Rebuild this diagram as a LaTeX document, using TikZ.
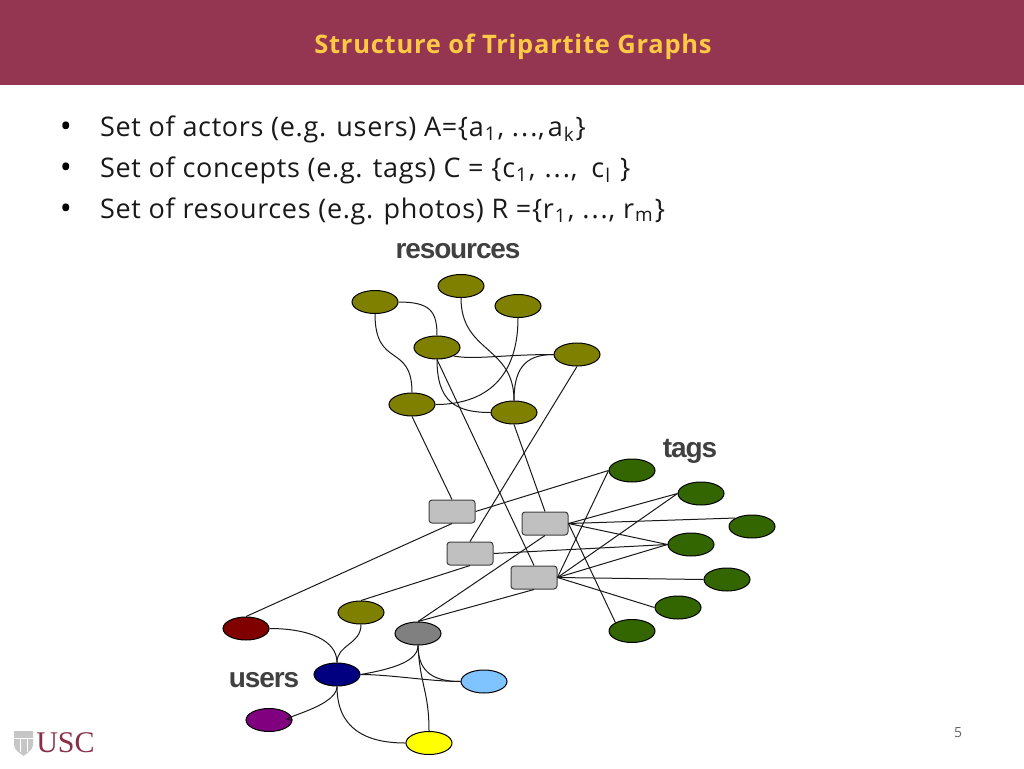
\documentclass[tikz,border=0pt]{standalone}
\usepackage{fontspec}
\setmainfont{Open Sans}
\newfontfamily\labfont[LetterSpace=-4]{Liberation Sans}
\newfontfamily\logofont{Liberation Serif}
\newfontfamily\spaced[LetterSpace=2.5]{Open Sans}
\newfontfamily\spacedT[LetterSpace=3]{Open Sans}
\usetikzlibrary{shapes.geometric}
\definecolor{band}{HTML}{943651}
\definecolor{gold}{HTML}{FFC845}
\definecolor{olivec}{HTML}{808000}
\definecolor{tagc}{HTML}{336600}
\definecolor{boxc}{HTML}{C0C0C0}
\definecolor{lab}{HTML}{404040}
\definecolor{logoc}{HTML}{8A2E48}
\definecolor{ured}{HTML}{800000}
\definecolor{ugray}{HTML}{808080}
\definecolor{unavy}{HTML}{000080}
\definecolor{usky}{HTML}{80C4FF}
\definecolor{upurple}{HTML}{800080}
\definecolor{uyellow}{HTML}{FFFF00}
\newcommand{\subtxt}[1]{\kern1pt\textsubscript{#1}\kern1.5pt}
\newcommand{\ddd}{.\kern2pt.\kern2pt.}
\tikzset{
  x=1pt,y=-1pt,
  oval/.style={ellipse,draw=black,line width=1pt,minimum width=46pt,minimum height=23pt,inner sep=0pt,fill=#1},
  res/.style={oval=olivec},
  tag/.style={oval=tagc},
  tbox/.style={rectangle,rounded corners=3pt,draw=black!75,line width=1pt,fill=boxc,minimum width=46pt,minimum height=23pt,inner sep=0pt},
  edge/.style={draw=black!90,line width=1pt},
  biglab/.style={font=\labfont\bfseries\fontsize{28}{28}\selectfont,text=lab,inner sep=0pt},
  bullettext/.style={anchor=base west,inner sep=0pt,font=\spaced\fontsize{27}{27}\selectfont,text=black!90},
  bulletdot/.style={anchor=base,inner sep=0pt,font=\fontsize{32}{32}\selectfont,text=black}
}
\begin{document}
\begin{tikzpicture}
\useasboundingbox (0,0) rectangle (1024,768);
\fill[band] (0,0) rectangle (1024,85);
\node[inner sep=0pt,text=gold,font=\spacedT\bfseries\fontsize{25.5}{25.5}\selectfont] (title) at (513,47) {Structure of Tripartite Graphs};

\node[bulletdot] (d1) at (66,137.5) {•};
\node[bulletdot] (d2) at (66,178.5) {•};
\node[bulletdot] (d3) at (66,219.5) {•};
\node[bullettext] (l1) at (100,136) {Set of actors (e.g. users) A=\{a\subtxt{1}, \ddd,\kern3pt a\subtxt{k}\}};
\node[bullettext] (l2) at (100,177) {Set of concepts (e.g. tags) C = \{c\subtxt{1},\kern9pt \ddd,\kern14pt c\subtxt{l}\kern8pt\}};
\node[bullettext] (l3) at (100,218) {Set of resources (e.g. photos) R =\{r\subtxt{1},\kern8pt \ddd,\kern8pt r\subtxt{m}\}};

\node[biglab] (lres) at (458,251.5) {resources};
\node[biglab] (ltags) at (690,451.5) {tags};
\node[biglab] (lusers) at (264,680) {users};

\node[res] (r1) at (375,302) {};
\node[res] (r2) at (461,286) {};
\node[res] (r3) at (518,306) {};
\node[res] (r4) at (437,347.5) {};
\node[res] (r5) at (577,354.5) {};
\node[res] (r6) at (412,404.5) {};
\node[res] (r7) at (514,412.5) {};

\node[tag] (t1) at (632,470.5) {};
\node[tag] (t2) at (701,493.5) {};
\node[tag] (t3) at (752,526.5) {};
\node[tag] (t4) at (691,544.5) {};
\node[tag] (t5) at (727,579.5) {};
\node[tag] (t6) at (678,607.5) {};
\node[tag] (t7) at (632,631) {};

\node[tbox] (b1) at (452,511.5) {};
\node[tbox] (b2) at (545,523.5) {};
\node[tbox] (b3) at (470,553.5) {};
\node[tbox] (b4) at (534,577.5) {};

\node[oval=ured] (u1) at (246,628.5) {};
\node[oval=olivec] (u2) at (361,612.5) {};
\node[oval=ugray] (u3) at (418,633.5) {};
\node[oval=unavy] (u4) at (337,674.5) {};
\node[oval=usky] (u5) at (484,681.5) {};
\node[oval=upurple] (u6) at (269,720) {};
\node[oval=uyellow] (u7) at (429,743) {};

% resource curves
\draw[edge] (r1.east) .. controls +(32,0) and +(0,-24) .. (r4.north);
\draw[edge] (r1.south) .. controls +(0,55) and +(0,-50) .. (r6.north);
\draw[edge] (r2.south) .. controls +(0,55) and +(0,-55) .. (r7.north);
\draw[edge] (r3.south) .. controls +(0,60) and +(50,0) .. (r6.east);
\draw[edge] (r4.south) .. controls +(0,42) and +(-35,0) .. (r7.west);
\draw[edge] (r4.south east) .. controls +(20,4) and +(-50,0) .. (r5.west);
\draw[edge] (r5.west) .. controls +(-30,0) and +(0,-30) .. (r7.north);

% resources to boxes
\draw[edge] (r6.south) -- (b1.north);
\draw[edge] (r4.south) -- (b4.north);
\draw[edge] (r7.south) -- (b2.north);
\draw[edge] (r5.south) -- (b3.north);

% boxes to tags
\draw[edge] (b1.east) -- (t1.west);
\draw[edge] (b3.east) -- (t4.west);
\draw[edge] (b2.east) -- (t2.west);
\draw[edge] (b2.east) -- (t3.north west);
\draw[edge] (b2.east) -- (t4.west);
\draw[edge] (b2.east) -- (t7.north west);
\draw[edge] (b4.east) -- (t1.west);
\draw[edge] (b4.east) -- (t2.west);
\draw[edge] (b4.east) -- (t4.west);
\draw[edge] (b4.east) -- (t5.west);
\draw[edge] (b4.east) -- (t6.west);

% boxes to users
\draw[edge] (b1.south) -- (u1.north);
\draw[edge] (b3.south) -- (u2.north);
\draw[edge] (b2.south) -- (u3.north);
\draw[edge] (b4.south) -- (u3.north);

% user curves
\draw[edge] (u1.east) .. controls +(40,0) and +(0,-22) .. (u4.north);
\draw[edge] (u2.south) .. controls +(0,20) and +(0,-18) .. (u4.north);
\draw[edge] (u4.east) .. controls +(35,-6) and +(0,15) .. (u3.south);
\draw[edge] (u4.east) .. controls +(30,0) and +(-30,0) .. (u5.west);
\draw[edge] (u3.south) .. controls +(0,28) and +(-25,0) .. (u5.west);
\draw[edge] (u3.south) .. controls +(2,40) and +(0,-40) .. (u7.north);
\draw[edge] (u4.south) .. controls +(0,22) and +(-25,0) .. (u6.east);
\draw[edge] (u4.south) .. controls +(0,42) and +(-40,0) .. (u7.west);

% logo
\fill[gray!45] (14,731) -- (33,731) -- (33,745) .. controls (33,750) and (27,753) .. (23.5,756) .. controls (20,753) and (14,750) .. (14,745) -- cycle;
\draw[white,line width=0.7pt] (14,738) -- (33,738) (20,739) -- (20,752) (27,739) -- (27,752);
\node[inner sep=0pt,text=logoc,font=\logofont\fontsize{30}{30}\selectfont] (usc) at (65.5,743) {USC};
\node[inner sep=0pt,text=black!60,font=\fontsize{14}{14}\selectfont] (page) at (958,733) {5};
\end{tikzpicture}
\end{document}
